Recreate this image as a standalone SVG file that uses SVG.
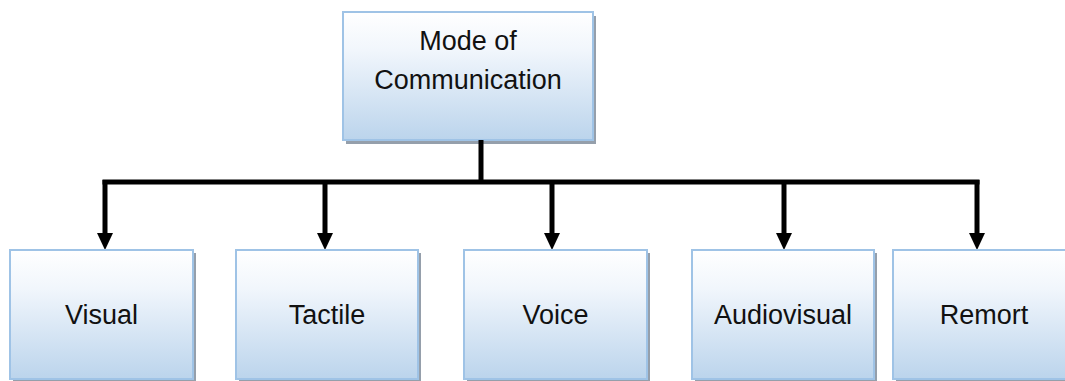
<svg xmlns="http://www.w3.org/2000/svg" width="1065" height="381" viewBox="0 0 1065 381">
  <defs>
    <linearGradient id="boxFill" x1="0" y1="0" x2="0" y2="1">
      <stop offset="0" stop-color="#ffffff"/>
      <stop offset="0.3" stop-color="#f1f6fc"/>
      <stop offset="1" stop-color="#bbd4ec"/>
    </linearGradient>
    <marker id="arrowHead" markerUnits="userSpaceOnUse" markerWidth="17" markerHeight="16" viewBox="0 0 17 16" refX="0" refY="8" orient="auto">
      <path d="M0,0 L17,8 L0,16 Z" fill="#000"/>
    </marker>
  </defs>
  <style>
    .box { fill: url(#boxFill); stroke: #9fc3e6; stroke-width: 2; }
    .shadow { fill: #959fab; }
    .label { font-family: "Liberation Sans", Arial, sans-serif; font-size: 27px; fill: #111; text-anchor: middle; }
    .wire { stroke: #000; stroke-width: 5; fill: none; }
    .drop { stroke: #000; stroke-width: 5; fill: none; marker-end: url(#arrowHead); }
  </style>

  <rect width="1065" height="381" fill="#ffffff"/>

  <!-- root node -->
  <g id="node-mode">
    <rect class="shadow" x="346" y="16" width="250" height="128"/>
    <rect class="box" x="343" y="12" width="250" height="128"/>
    <text class="label" x="468" y="50">Mode of</text>
    <text class="label" x="468" y="89">Communication</text>
  </g>

  <!-- connectors -->
  <g id="connectors">
    <line class="wire" x1="481" y1="140" x2="481" y2="182"/>
    <line class="wire" x1="102.5" y1="182" x2="979.5" y2="182"/>
    <line class="drop" x1="105" y1="180" x2="105" y2="233"/>
    <line class="drop" x1="325" y1="180" x2="325" y2="233"/>
    <line class="drop" x1="552" y1="180" x2="552" y2="233"/>
    <line class="drop" x1="784" y1="180" x2="784" y2="233"/>
    <line class="drop" x1="977" y1="180" x2="977" y2="233"/>
  </g>

  <!-- child nodes -->
  <g id="node-visual">
    <rect class="shadow" x="13" y="253" width="183" height="130"/>
    <rect class="box" x="10" y="250" width="183" height="129"/>
    <text class="label" x="101.5" y="324">Visual</text>
  </g>
  <g id="node-tactile">
    <rect class="shadow" x="239" y="253" width="182" height="130"/>
    <rect class="box" x="236" y="250" width="182" height="129"/>
    <text class="label" x="327" y="324">Tactile</text>
  </g>
  <g id="node-voice">
    <rect class="shadow" x="467" y="253" width="183" height="130"/>
    <rect class="box" x="464" y="250" width="183" height="129"/>
    <text class="label" x="555.5" y="324">Voice</text>
  </g>
  <g id="node-audiovisual">
    <rect class="shadow" x="695" y="253" width="182" height="130"/>
    <rect class="box" x="692" y="250" width="182" height="129"/>
    <text class="label" x="783" y="324">Audiovisual</text>
  </g>
  <g id="node-remort">
    <rect class="shadow" x="896" y="253" width="182" height="130"/>
    <rect class="box" x="893" y="250" width="182" height="129"/>
    <text class="label" x="984" y="324">Remort</text>
  </g>
</svg>
